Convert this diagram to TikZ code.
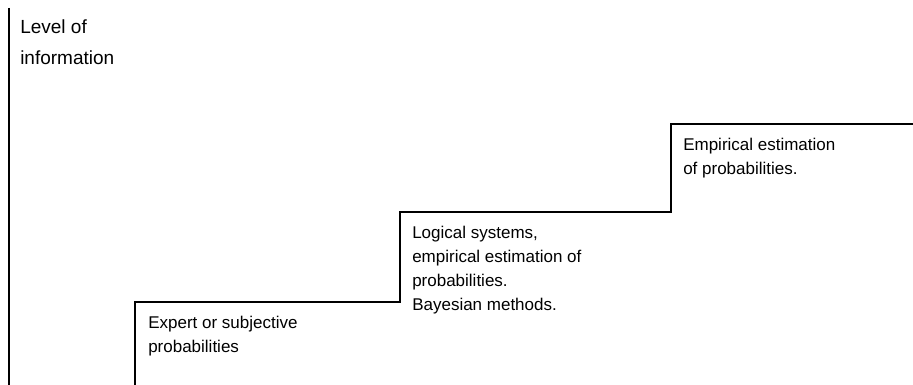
\documentclass[tikz,border=0pt]{standalone}
\usepackage{fontspec}
\setmainfont{Liberation Sans}

\tikzset{
    stair/.style={line width=1.5pt},
    steptext/.style={anchor=north west, inner sep=0pt, align=left,
        font=\fontsize{12.75}{18}\selectfont}
}

\begin{document}
\begin{tikzpicture}[x=0.75pt,y=-0.75pt]
    \useasboundingbox (0,0) rectangle (913,385);

    \coordinate (axistop) at (9,8);
    \coordinate (axisbot) at (9,385);
    \coordinate (s0) at (135,385);
    \coordinate (s1) at (135,302);
    \coordinate (s2) at (400,302);
    \coordinate (s3) at (400,212);
    \coordinate (s4) at (671,212);
    \coordinate (s5) at (671,124);
    \coordinate (s6) at (913,124);

    \draw[stair] (axistop) -- (axisbot);
    \draw[stair] (s0) -- (s1) -- (s2) -- (s3) -- (s4) -- (s5) -- (s6);

    \node[steptext, font=\fontsize{14.25}{23.25}\selectfont] (level) at (20,19) {Level of\\information};
    \node[steptext] (expert) at (148,315.6) {Expert or subjective\\probabilities};
    \node[steptext] (logical) at (412,225.6) {Logical systems,\\empirical estimation of\\probabilities.\\Bayesian methods.};
    \node[steptext] (empirical) at (683,137.6) {Empirical estimation\\of probabilities.};
\end{tikzpicture}
\end{document}
